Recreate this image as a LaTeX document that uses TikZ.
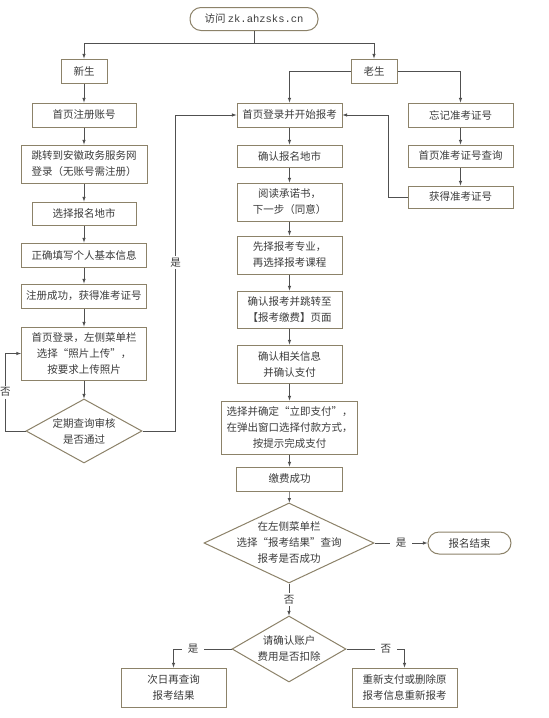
\documentclass[tikz,border=0pt]{standalone}
\usepackage{fontspec}
\setmainfont{Noto Sans CJK SC}
\newfontfamily\urlfont{Liberation Mono}
\usetikzlibrary{shapes.geometric}
\definecolor{boxline}{RGB}{140,130,105}
\definecolor{edgeline}{RGB}{80,80,80}
\definecolor{txt}{RGB}{60,60,60}

\begin{document}
\begin{tikzpicture}[x=1pt, y=-1pt, every node/.style={font=\fontsize{10.5}{16}\selectfont, text=txt}]
    \tikzstyle{box_style}=[rectangle, draw=boxline, line width=1pt, fill=white, align=center, inner sep=0pt, minimum width=105pt, minimum height=24pt]
    \tikzstyle{term_style}=[box_style, rounded corners=11pt]
    \tikzstyle{dec_style}=[diamond, draw=boxline, line width=1pt, fill=white, inner sep=0pt]
    \tikzstyle{flow_edge}=[draw=edgeline, line width=0.6pt, -latex]
    \tikzstyle{tag_style}=[fill=white, inner sep=2pt]

    \useasboundingbox (0,0) rectangle (549,718);

    % --- (a) entry ---
    \node[term_style, minimum width=128pt, minimum height=23pt] (visit) at (254,19) {访问 {\urlfont zk.ahzsks.cn}};
    \coordinate (split) at (254,43);
    \node[box_style, minimum width=46pt] (new) at (84,71) {新生};
    \node[box_style, minimum width=46pt] (old) at (374,71) {老生};

    % --- (b) new students ---
    \node[box_style, minimum width=104pt] (n1) at (84,115) {首页注册账号};
    \node[box_style, minimum width=126pt, minimum height=38pt] (n2) at (84,164) {跳转到安徽政务服务网\\登录（无账号需注册）};
    \node[box_style, minimum width=104pt, minimum height=23pt] (n3) at (84,213.5) {选择报名地市};
    \node[box_style, minimum width=125pt] (n4) at (84,255) {正确填写个人基本信息};
    \node[box_style, minimum width=125pt] (n5) at (84,296) {注册成功，获得准考证号};
    \node[box_style, minimum width=125pt, minimum height=53pt] (n6) at (84,353.5) {首页登录，左侧菜单栏\\选择“照片上传”，\\按要求上传照片};
    \node[dec_style, minimum width=116pt, minimum height=64pt] (nd) at (84,431) {};
    \node[align=center] at (nd) {定期查询审核\\是否通过};

    % --- (c) registration ---
    \node[box_style] (m1) at (289.5,115) {首页登录并开始报考};
    \node[box_style, minimum height=22pt] (m2) at (289.5,156) {确认报名地市};
    \node[box_style, minimum height=38pt] (m3) at (289.5,202) {阅读承诺书，\\下一步（同意）};
    \node[box_style, minimum height=38pt] (m4) at (289.5,255) {先择报考专业，\\再选择报考课程};
    \node[box_style, minimum height=37pt] (m5) at (289.5,309.5) {确认报考并跳转至\\【报考缴费】页面};
    \node[box_style, minimum height=38pt] (m6) at (289.5,364) {确认相关信息\\并确认支付};
    \node[box_style, minimum width=136pt, minimum height=53pt] (m7) at (289.5,427.5) {选择并确定“立即支付”，\\在弹出窗口选择付款方式，\\按提示完成支付};
    \node[box_style, minimum width=106pt] (m8) at (289.5,479) {缴费成功};
    \node[dec_style, minimum width=170pt, minimum height=80pt] (md1) at (289,543) {};
    \node[align=center] at (md1) {在左侧菜单栏\\选择“报考结果”查询\\报考是否成功};
    \node[term_style, minimum width=83pt, minimum height=22pt] (done) at (469.5,543) {报名结束};
    \node[dec_style, minimum width=114pt, minimum height=66pt] (md2) at (289,649) {};
    \node[align=center] at (md2) {请确认账户\\费用是否扣除};
    \node[box_style, minimum height=39pt] (b1) at (173.5,687.5) {次日再查询\\报考结果};
    \node[box_style, minimum height=39pt] (b2) at (404.5,687.5) {重新支付或删除原\\报考信息重新报考};

    % --- (d) lost number ---
    \node[box_style] (r1) at (460.5,115) {忘记准考证号};
    \node[box_style, minimum height=22pt] (r2) at (460.5,156) {首页准考证号查询};
    \node[box_style, minimum height=22pt] (r3) at (460.5,197) {获得准考证号};

    % Edges
    \draw[draw=edgeline, line width=0.6pt] (visit) -- (split);
    \draw[flow_edge] (split) -| (new);
    \draw[flow_edge] (split) -| (old);
    \draw[flow_edge] (new) -- (n1);
    \draw[flow_edge] (old.west) -| (m1);
    \draw[flow_edge] (old.east) -| (r1);
    \foreach \a/\b in {n1/n2, n2/n3, n3/n4, n4/n5, n5/n6, n6/nd,
                       m1/m2, m2/m3, m3/m4, m4/m5, m5/m6, m6/m7, m7/m8, m8/md1,
                       r1/r2, r2/r3}
      \draw[flow_edge] (\a) -- (\b);
    \draw[flow_edge] (r3.west) -- ++(-19,0) |- (m1.east);
    \draw[flow_edge] (nd.west) -- ++(-20,0) |- node[tag_style, inner xsep=0.5pt, pos=0.25] {否} (n6.west);
    \draw[flow_edge] (nd.east) -- ++(33,0) |- node[tag_style, pos=0.267] {是} (m1.west);
    \draw[flow_edge] (md1.east) -- node[tag_style, inner xsep=6pt] {是} (done.west);
    \draw[flow_edge] (md1.south) -- node[tag_style] {否} (md2.north);
    \draw[flow_edge] (md2.west) -| node[tag_style, inner xsep=6pt, pos=0.33] {是} (b1.north);
    \draw[flow_edge] (md2.east) -| node[tag_style, inner xsep=6pt, pos=0.34] {否} (b2.north);
  \end{tikzpicture}
\end{document}
